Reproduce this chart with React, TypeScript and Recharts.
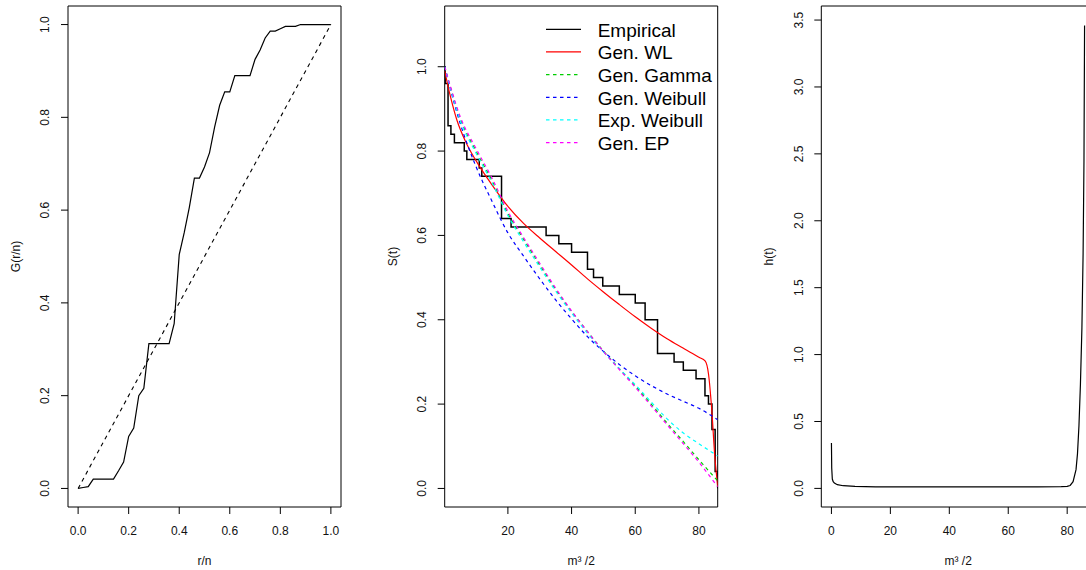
import { LineChart, Line, XAxis, YAxis, ReferenceArea, Label, Legend } from "recharts";

const FONT = '"Liberation Sans", Arial, Helvetica, sans-serif';

// TTT plot
const tttR = [
  0, 0.02, 0.04, 0.06, 0.08, 0.1, 0.12, 0.14, 0.16, 0.18, 0.2, 0.22, 0.24, 0.26, 0.28, 0.3, 0.32,
  0.34, 0.36, 0.38, 0.4, 0.42, 0.44, 0.46, 0.48, 0.5, 0.52, 0.54, 0.56, 0.58, 0.6, 0.62, 0.64,
  0.66, 0.68, 0.7, 0.72, 0.74, 0.76, 0.78, 0.8, 0.82, 0.84, 0.86, 0.88, 0.9, 0.92, 0.94, 0.96,
  0.98, 1.0,
];
const tttG = [
  0, 0.002, 0.004, 0.02, 0.02, 0.02, 0.02, 0.02, 0.038, 0.057, 0.112, 0.13, 0.2, 0.216, 0.312,
  0.312, 0.312, 0.312, 0.312, 0.355, 0.504, 0.552, 0.606, 0.669, 0.669, 0.693, 0.724, 0.779,
  0.826, 0.855, 0.855, 0.89, 0.89, 0.89, 0.89, 0.925, 0.945, 0.971, 0.986, 0.986, 0.991, 0.996,
  0.996, 0.996, 1, 1, 1, 1, 1, 1, 1,
];
const diagR = [0, 1];
const diagG = [0, 1];

// survival
const kmTime = [
  0.15, 0.3, 1.2, 2.1, 3.2, 6.3, 7.1, 11.0, 11.8, 18.0, 21.0, 32.0, 36.0, 40.0, 45.0, 46.9, 49.8,
  55.0, 60.0, 63.1, 67.0, 72.2, 75.1, 79.1, 81.9, 83.0, 84.1, 85.1, 85.9,
];
const kmSurv = [
  1.0, 0.96, 0.86, 0.84, 0.82, 0.8, 0.78, 0.76, 0.74, 0.64, 0.62, 0.6, 0.58, 0.56, 0.52, 0.5, 0.48,
  0.46, 0.44, 0.4, 0.32, 0.3, 0.28, 0.26, 0.22, 0.2, 0.14, 0.04, 0.0,
];
const wlTime = [
  0.15, 1, 2, 4, 7, 11, 15, 20, 25, 30, 35, 40, 45, 50, 55, 60, 65, 70, 75, 78, 80, 82, 83, 84, 85,
  85.9,
];
const wlSurv = [
  0.99, 0.96, 0.928, 0.873, 0.818, 0.765, 0.72, 0.669, 0.628, 0.594, 0.562, 0.53, 0.497, 0.466,
  0.436, 0.407, 0.38, 0.355, 0.333, 0.32, 0.311, 0.302, 0.272, 0.19, 0.075, 0.005,
];
const fitTime = [0.15, 2, 5, 10, 15, 20, 25, 30, 35, 40, 45, 50, 55, 60, 65, 70, 75, 80, 85.9];
const gammaSurv = [
  1.0, 0.95, 0.877, 0.8, 0.73, 0.652, 0.59, 0.53, 0.472, 0.42, 0.372, 0.326, 0.284, 0.243, 0.2,
  0.155, 0.112, 0.068, 0.018,
];
const weibullSurv = [
  1.0, 0.945, 0.866, 0.763, 0.681, 0.606, 0.55, 0.497, 0.447, 0.402, 0.36, 0.325, 0.294, 0.267,
  0.244, 0.224, 0.207, 0.19, 0.163,
];
const expWeibullSurv = [
  1.0, 0.947, 0.873, 0.795, 0.725, 0.647, 0.584, 0.525, 0.468, 0.416, 0.368, 0.324, 0.284, 0.246,
  0.205, 0.165, 0.132, 0.106, 0.077,
];
const epSurv = [
  1.0, 0.952, 0.882, 0.806, 0.736, 0.657, 0.594, 0.534, 0.475, 0.421, 0.372, 0.325, 0.282, 0.24,
  0.196, 0.151, 0.107, 0.062, 0.004,
];

// hazard
const hazTime = [
  0, 0.1, 0.3, 0.6, 1, 2, 4, 8, 15, 30, 50, 70, 78, 80, 81, 82, 83, 83.5, 84, 84.5, 85, 85.4, 85.7,
  85.9,
];
const hazRate = [
  0.34, 0.15, 0.07, 0.05, 0.04, 0.028, 0.02, 0.015, 0.012, 0.011, 0.011, 0.012, 0.013, 0.015, 0.022,
  0.05, 0.14, 0.26, 0.47, 0.78, 1.2, 1.75, 2.45, 3.46,
];

const legendNames = ["Empirical", "Gen. WL", "Gen. Gamma", "Gen. Weibull", "Exp. Weibull", "Gen. EP"];
const legendColors = ["#000000", "#FF0000", "#00CD00", "#0000FF", "#00FFFF", "#FF00FF"];
const legendDashed = [false, false, true, true, true, true];

const unitTicks = [0, 0.2, 0.4, 0.6, 0.8, 1.0];
const survXTicks = [20, 40, 60, 80];
const hazXTicks = [0, 20, 40, 60, 80];
const hazYTicks = [0, 0.5, 1.0, 1.5, 2.0, 2.5, 3.0, 3.5];

const zip = (xs: number[], ys: number[]) => xs.map((x, i) => ({ x, y: ys[i] }));

const DASH = "3.5 3.5";
const TXT = "#111";

function xTick(digits: number) {
  return (p: any) => (
    <text x={p.x} y={535} textAnchor="middle" fontSize={12} fontFamily={FONT} fill={TXT}>
      {Number(p.payload.value).toFixed(digits)}
    </text>
  );
}

function yTick(plotLeft: number) {
  const bx = plotLeft - 18.7;
  return (p: any) => (
    <text
      x={bx}
      y={p.y}
      transform={`rotate(-90, ${bx}, ${p.y})`}
      textAnchor="middle"
      fontSize={12}
      fontFamily={FONT}
      fill={TXT}
    >
      {Number(p.payload.value).toFixed(1)}
    </text>
  );
}

function xTitle(text: string, cx: number) {
  return () => (
    <text x={cx} y={565} textAnchor="middle" fontSize={12} fontFamily={FONT} fill={TXT}>
      {text}
    </text>
  );
}

function yTitle(text: string, plotLeft: number) {
  const bx = plotLeft - 48.2;
  return () => (
    <text
      x={bx}
      y={256.5}
      transform={`rotate(-90, ${bx}, 256.5)`}
      textAnchor="middle"
      fontSize={12}
      fontFamily={FONT}
      fill={TXT}
    >
      {text}
    </text>
  );
}

function SurvLegend() {
  return (
    <svg width={190} height={150}>
      {legendNames.map((name, i) => {
        const cy = 20 + i * 22.66;
        return (
          <g key={name}>
            <line
              x1={0}
              x2={35}
              y1={cy - 0.7}
              y2={cy - 0.7}
              stroke={legendColors[i]}
              strokeWidth={1.2}
              strokeDasharray={legendDashed[i] ? DASH : undefined}
            />
            <text x={51.7} y={cy + 6.8} fontSize={19} fontFamily={FONT} fill="#000">
              {name}
            </text>
          </g>
        );
      })}
    </svg>
  );
}

const YW = 60;
const XH = 40;

export default function App() {
  return (
    <div
      style={{ position: "absolute", left: 0, top: 0, width: 1086, height: 570, overflow: "hidden", background: "#fff" }}
    >
      {/* TTT */}
      <div style={{ position: "absolute", left: 0, top: 0 }}>
        <LineChart width={362} height={570} margin={{ top: 6, right: 21, bottom: 570 - 507 - XH, left: 68 - YW }}>
          <XAxis
            dataKey="x"
            type="number"
            domain={[-0.04, 1.04]}
            ticks={unitTicks}
            allowDataOverflow
            height={XH}
            axisLine={false}
            tickLine={{ stroke: "#000" }}
            tickSize={7}
            tick={xTick(1)}
          >
            <Label content={xTitle("r/n", (68 + 341) / 2)} />
          </XAxis>
          <YAxis
            type="number"
            domain={[-0.04, 1.04]}
            ticks={unitTicks}
            allowDataOverflow
            width={YW}
            axisLine={false}
            tickLine={{ stroke: "#000" }}
            tickSize={7}
            tick={yTick(68)}
          >
            <Label content={yTitle("G(r/n)", 68)} />
          </YAxis>
          <ReferenceArea x1={-0.04} x2={1.04} y1={-0.04} y2={1.04} fill="none" stroke="#000" strokeWidth={1} />
          <Line
            data={zip(diagR, diagG)}
            dataKey="y"
            type="linear"
            stroke="#000"
            strokeWidth={1.1}
            strokeDasharray="4 4"
            dot={false}
            isAnimationActive={false}
          />
          <Line
            data={zip(tttR, tttG)}
            dataKey="y"
            type="linear"
            stroke="#000"
            strokeWidth={1.2}
            dot={false}
            isAnimationActive={false}
          />
        </LineChart>
      </div>

      {/* survival */}
      <div style={{ position: "absolute", left: 362, top: 0 }}>
        <LineChart width={362} height={570} margin={{ top: 6, right: 6.3, bottom: 570 - 507 - XH, left: 82.7 - YW }}>
          <XAxis
            dataKey="x"
            type="number"
            domain={[0.15, 85.9]}
            ticks={survXTicks}
            allowDataOverflow
            height={XH}
            axisLine={false}
            tickLine={{ stroke: "#000" }}
            tickSize={7}
            tick={xTick(0)}
          >
            <Label content={xTitle("m³ /2", (82.7 + 355.7) / 2)} />
          </XAxis>
          <YAxis
            type="number"
            domain={[-0.044, 1.144]}
            ticks={unitTicks}
            allowDataOverflow
            width={YW}
            axisLine={false}
            tickLine={{ stroke: "#000" }}
            tickSize={7}
            tick={yTick(82.7)}
          >
            <Label content={yTitle("S(t)", 82.7)} />
          </YAxis>
          <ReferenceArea x1={0.15} x2={85.9} y1={-0.044} y2={1.144} fill="none" stroke="#000" strokeWidth={1} />
          <Line
            data={zip(kmTime, kmSurv)}
            dataKey="y"
            type="stepAfter"
            stroke="#000"
            strokeWidth={1.5}
            dot={false}
            isAnimationActive={false}
          />
          <Line
            data={zip(wlTime, wlSurv)}
            dataKey="y"
            type="monotone"
            stroke="#FF0000"
            strokeWidth={1.2}
            dot={false}
            isAnimationActive={false}
          />
          <Line
            data={zip(fitTime, gammaSurv)}
            dataKey="y"
            type="monotone"
            stroke="#00CD00"
            strokeWidth={1.2}
            strokeDasharray={DASH}
            dot={false}
            isAnimationActive={false}
          />
          <Line
            data={zip(fitTime, weibullSurv)}
            dataKey="y"
            type="monotone"
            stroke="#0000FF"
            strokeWidth={1.2}
            strokeDasharray={DASH}
            dot={false}
            isAnimationActive={false}
          />
          <Line
            data={zip(fitTime, expWeibullSurv)}
            dataKey="y"
            type="monotone"
            stroke="#00FFFF"
            strokeWidth={1.2}
            strokeDasharray={DASH}
            dot={false}
            isAnimationActive={false}
          />
          <Line
            data={zip(fitTime, epSurv)}
            dataKey="y"
            type="monotone"
            stroke="#FF00FF"
            strokeWidth={1.2}
            strokeDasharray={DASH}
            dot={false}
            isAnimationActive={false}
          />
          <Legend
            layout="vertical"
            align="center"
            verticalAlign="middle"
            content={() => <SurvLegend />}
            wrapperStyle={{ left: 546 - 362, top: 10, width: 190, height: 150 }}
          />
        </LineChart>
      </div>

      {/* hazard */}
      <div style={{ position: "absolute", left: 724, top: 0 }}>
        <LineChart width={376} height={570} margin={{ top: 6, right: 5, bottom: 570 - 507 - XH, left: 97.3 - YW }}>
          <XAxis
            dataKey="x"
            type="number"
            domain={[-3.44, 89.44]}
            ticks={hazXTicks}
            allowDataOverflow
            height={XH}
            axisLine={false}
            tickLine={{ stroke: "#000" }}
            tickSize={7}
            tick={xTick(0)}
          >
            <Label content={xTitle("m³ /2", (97.3 + 371) / 2)} />
          </XAxis>
          <YAxis
            type="number"
            domain={[-0.139, 3.605]}
            ticks={hazYTicks}
            allowDataOverflow
            width={YW}
            axisLine={false}
            tickLine={{ stroke: "#000" }}
            tickSize={7}
            tick={yTick(97.3)}
          >
            <Label content={yTitle("h(t)", 97.3)} />
          </YAxis>
          <ReferenceArea x1={-3.44} x2={89.44} y1={-0.139} y2={3.605} fill="none" stroke="#000" strokeWidth={1} />
          <Line
            data={zip(hazTime, hazRate)}
            dataKey="y"
            type="linear"
            stroke="#000"
            strokeWidth={1.2}
            dot={false}
            isAnimationActive={false}
          />
        </LineChart>
      </div>
    </div>
  );
}
